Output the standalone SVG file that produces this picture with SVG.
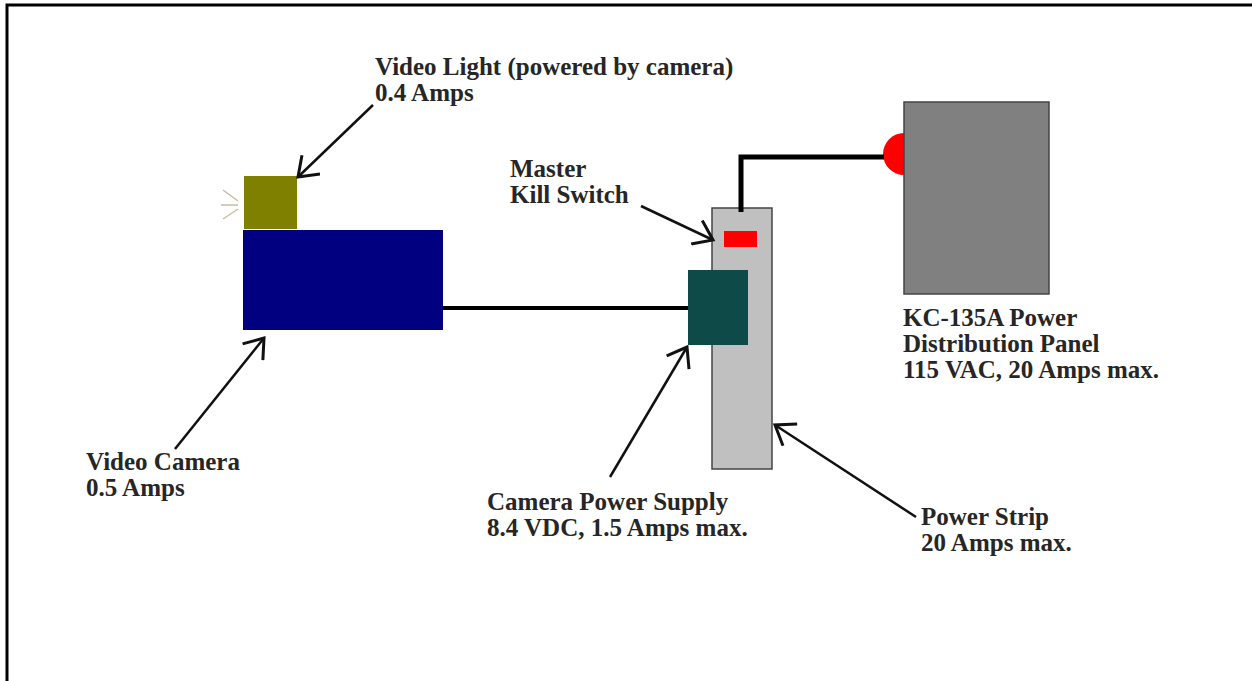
<svg xmlns="http://www.w3.org/2000/svg" width="1252" height="681" viewBox="0 0 1252 681">
<defs>
<style>
.lbl{font-family:"Liberation Serif","Times New Roman",serif;font-weight:bold;font-size:25px;fill:#262626}
.ptr{stroke:#111;stroke-width:2.5;fill:none;marker-end:url(#vhead)}
.box{stroke:#444;stroke-width:1.5}
</style>
<marker id="vhead" markerUnits="userSpaceOnUse" viewBox="-22 -14 26 28" refX="0" refY="0" markerWidth="26" markerHeight="28" orient="auto">
<path d="M-18,-13 L0,0 L-18,13" fill="none" stroke="#111" stroke-width="3"/>
</marker>
</defs>
<rect width="1252" height="681" fill="#fff"/>
<path d="M7,681 V5 H1252" fill="none" stroke="#000" stroke-width="3"/>

<g id="video-light">
<rect x="244" y="176" width="53" height="53" fill="#808000"/>
<path d="M238,201 L223,190 M238,205 L221,205 M238,209 L223,219" stroke="#c8bfa0" stroke-width="1.5" fill="none"/>
</g>
<g id="video-camera">
<rect x="243" y="230" width="200" height="100" fill="#000080"/>
</g>
<g id="power-strip">
<rect x="712" y="208" width="60" height="261" fill="#c0c0c0" class="box"/>
<rect id="kill-switch" x="724" y="231" width="33" height="16" fill="#ff0000"/>
</g>
<g id="camera-power-supply">
<rect x="688" y="270" width="60" height="75" fill="#0e4a48"/>
</g>
<g id="distribution-panel">
<path d="M904,133 A21,21 0 0 0 904,175 Z" fill="#ff0000"/>
<rect x="904" y="102" width="145" height="192" fill="#808080" class="box"/>
</g>

<g id="connectors">
<line x1="443" y1="308" x2="688" y2="308" stroke="#000" stroke-width="4"/>
<polyline points="741,212 741,157 884,157" fill="none" stroke="#000" stroke-width="5"/>
<line class="ptr" x1="373" y1="105" x2="298" y2="177"/>
<line class="ptr" x1="641" y1="206" x2="713" y2="240"/>
<line class="ptr" x1="175" y1="449" x2="264" y2="338"/>
<line class="ptr" x1="610" y1="477" x2="687" y2="347"/>
<line class="ptr" x1="916" y1="517" x2="775" y2="425"/>
</g>

<g id="labels">
<text class="lbl" x="375" y="75">Video Light (powered by camera)</text>
<text class="lbl" x="375" y="101">0.4 Amps</text>
<text class="lbl" x="510" y="177">Master</text>
<text class="lbl" x="510" y="203">Kill Switch</text>
<text class="lbl" x="903" y="326">KC-135A Power</text>
<text class="lbl" x="903" y="352">Distribution Panel</text>
<text class="lbl" x="903" y="378">115 VAC, 20 Amps max.</text>
<text class="lbl" x="86" y="470">Video Camera</text>
<text class="lbl" x="86" y="496">0.5 Amps</text>
<text class="lbl" x="487" y="510">Camera Power Supply</text>
<text class="lbl" x="487" y="536">8.4 VDC, 1.5 Amps max.</text>
<text class="lbl" x="921" y="525">Power Strip</text>
<text class="lbl" x="921" y="551">20 Amps max.</text>
</g>
</svg>
